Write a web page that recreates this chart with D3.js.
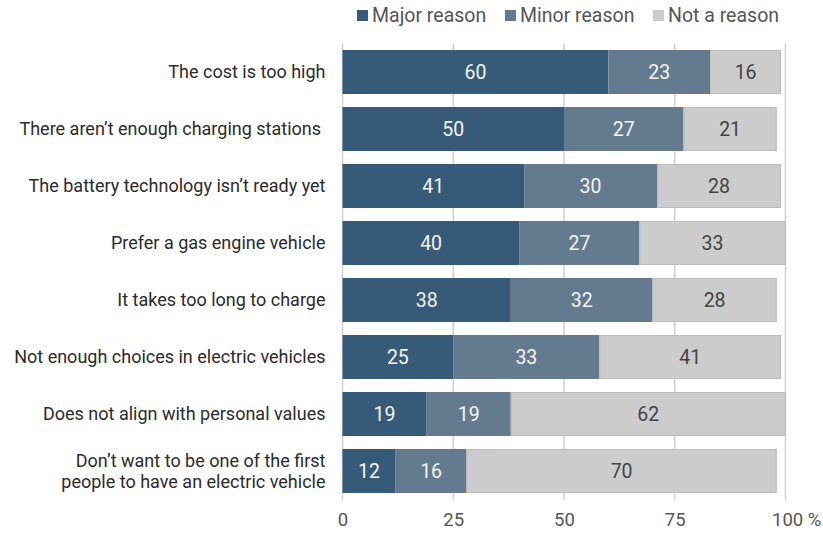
<script src="https://d3js.org/d3.v7.min.js"></script>
<style>
  body { margin: 0; background: #fff; }
  text { font-family: Roboto, "Noto Sans", sans-serif; }
</style>
<body>
<script>
  // survey answers, percent of respondents
  const categories = [
    "The cost is too high",
    "There aren\u2019t enough charging stations ",
    "The battery technology isn\u2019t ready yet",
    "Prefer a gas engine vehicle",
    "It takes too long to charge",
    "Not enough choices in electric vehicles",
    "Does not align with personal values",
    "Don\u2019t want to be one of the first|people to have an electric vehicle"
  ];
  const major = [60, 50, 41, 40, 38, 25, 19, 12];
  const minor = [23, 27, 30, 27, 32, 33, 19, 16];
  const notReason = [16, 21, 28, 33, 28, 41, 62, 70];
  const seriesNames = ["Major reason", "Minor reason", "Not a reason"];
  const tickValues = [0, 25, 50, 75, 100];

  const colors = ["#375a79", "#647b8f", "#cccccc"];
  const labelColors = ["#f4f4f4", "#f4f4f4", "#444444"];

  const width = 823, height = 536;
  const margin = { top: 43.5, right: 37.5, bottom: 36.5, left: 342.5 };

  const rows = categories.map(function(c, i) {
    return { cat: c, "Major reason": major[i], "Minor reason": minor[i], "Not a reason": notReason[i] };
  });
  const stack = d3.stack().keys(seriesNames)(rows);

  const svg = d3.select("body").append("svg")
    .attr("width", width)
    .attr("height", height);

  const x = d3.scaleLinear()
    .domain([0, 100])
    .range([margin.left, width - margin.right]);

  const y = d3.scaleBand()
    .domain(categories)
    .range([margin.top, height - margin.bottom])
    .paddingInner(0.228)
    .paddingOuter(0.114);

  // vertical grid lines
  svg.append("g")
    .selectAll("line")
    .data(tickValues)
    .enter()
    .append("line")
    .attr("x1", d => x(d))
    .attr("x2", d => x(d))
    .attr("y1", margin.top)
    .attr("y2", height - margin.bottom)
    .attr("stroke", "#cfcfcf")
    .attr("stroke-width", 1.5);

  // bars
  const layer = svg.selectAll(".layer")
    .data(stack)
    .enter()
    .append("g")
    .attr("fill", (d, i) => colors[i]);

  layer.selectAll("rect")
    .data(d => d)
    .enter()
    .append("rect")
    .attr("x", d => x(d[0]))
    .attr("y", d => y(d.data.cat))
    .attr("width", d => x(d[1]) - x(d[0]))
    .attr("height", y.bandwidth());

  // light bars get a faint edge
  svg.selectAll(".edge")
    .data(stack[2])
    .enter()
    .append("rect")
    .attr("x", d => x(d[0]) + 0.5)
    .attr("y", d => y(d.data.cat) + 0.5)
    .attr("width", d => x(d[1]) - x(d[0]) - 1)
    .attr("height", y.bandwidth() - 1)
    .attr("fill", "none")
    .attr("stroke", "#bdbdbd")
    .attr("stroke-width", 1);

  // value labels
  stack.forEach(function(s, si) {
    svg.append("g")
      .selectAll("text")
      .data(s)
      .enter()
      .append("text")
      .attr("x", d => (x(d[0]) + x(d[1])) / 2)
      .attr("y", d => y(d.data.cat) + y.bandwidth() / 2)
      .attr("dy", ".36em")
      .attr("text-anchor", "middle")
      .attr("font-size", "19.5px")
      .attr("fill", labelColors[si])
      .text(d => d[1] - d[0]);
  });

  // category labels
  const catText = svg.append("g")
    .selectAll("text")
    .data(categories)
    .enter()
    .append("text")
    .attr("x", margin.left - 17)
    .attr("y", d => y(d) + y.bandwidth() / 2)
    .attr("text-anchor", "end")
    .attr("font-size", "18px")
    .attr("fill", "#2b2b2b")
    .style("white-space", "pre");

  catText.each(function(d) {
    const parts = d.split("|");
    const t = d3.select(this);
    parts.forEach(function(p, i) {
      t.append("tspan")
        .attr("x", margin.left - 17)
        .attr("dy", i == 0 ? (0.35 - (parts.length - 1) * 0.6) + "em" : "1.2em")
        .text(p);
    });
  });

  // x axis
  const axis = svg.append("g")
    .attr("transform", "translate(0," + (height - margin.bottom) + ")")
    .call(d3.axisBottom(x).tickValues(tickValues).tickSize(0).tickPadding(13)
      .tickFormat(d => d == 100 ? "100 %" : d));
  axis.select(".domain").remove();
  axis.selectAll("text")
    .attr("font-size", "18.5px")
    .attr("fill", "#555")
    .style("font-family", "Roboto, sans-serif");
  axis.selectAll(".tick text")
    .filter(d => d == 100)
    .attr("text-anchor", "start")
    .attr("x", -14);

  // legend
  const legendX = [357, 505, 653];
  const legend = svg.append("g")
    .selectAll("g")
    .data(seriesNames)
    .enter()
    .append("g")
    .attr("transform", (d, i) => "translate(" + legendX[i] + ",8)");

  legend.append("rect")
    .attr("width", 11)
    .attr("height", 11)
    .attr("y", 2)
    .attr("fill", (d, i) => colors[i]);

  legend.append("text")
    .attr("x", 15)
    .attr("y", 7)
    .attr("dy", ".36em")
    .attr("font-size", "19.5px")
    .attr("fill", "#555")
    .text(d => d);
</script>
</body>
